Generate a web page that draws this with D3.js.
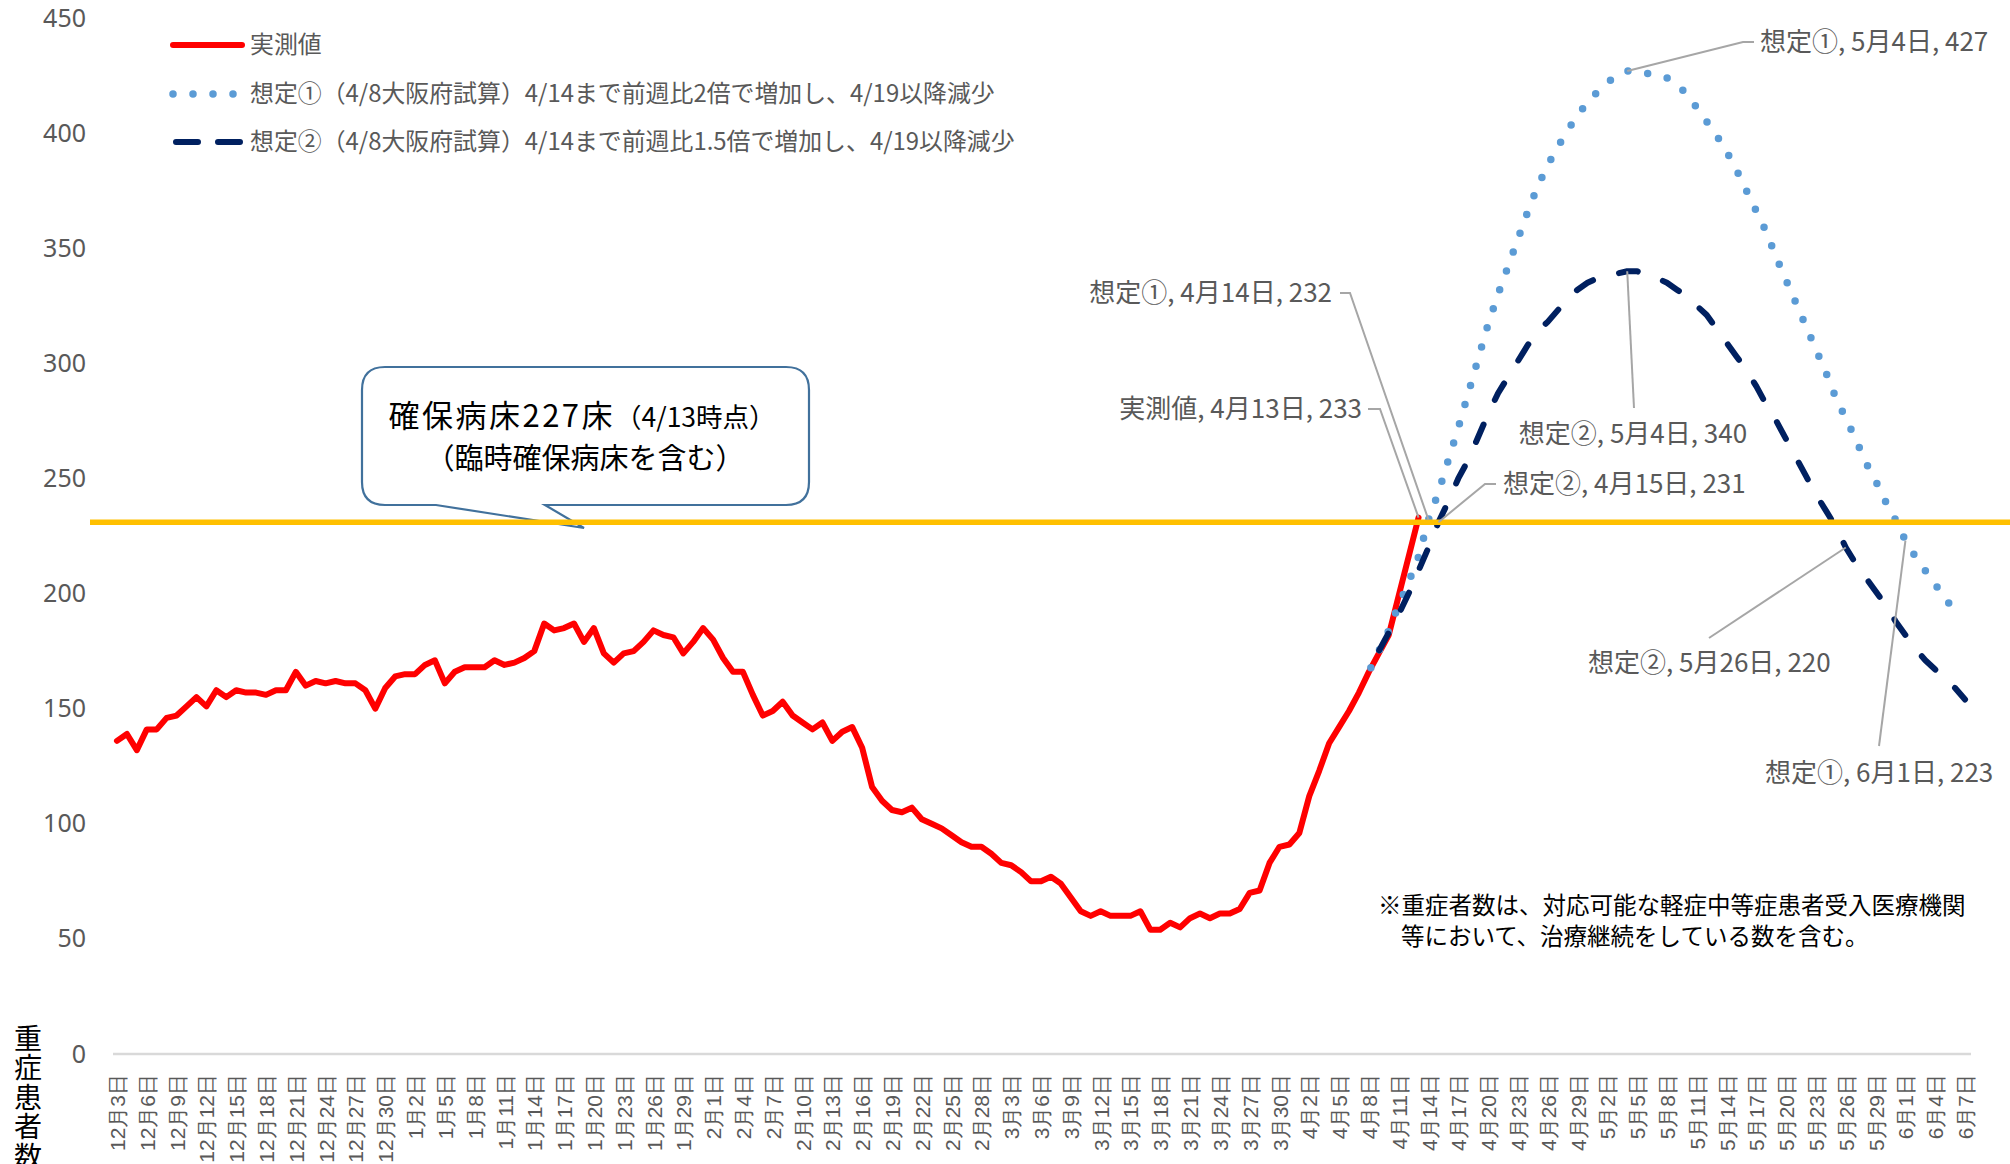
<!DOCTYPE html>
<html><head><meta charset="utf-8">
<script src="https://cdn.jsdelivr.net/npm/d3@7"></script>
<style>
html,body{margin:0;padding:0;background:#fff;}
svg{display:block;font-family:"Noto Sans CJK JP","Noto Sans",sans-serif;}
</style></head><body>
<svg id="chart" width="2010" height="1164"></svg>
<script>
// ---------------- data ----------------
const firstDay = {year: 2020, month: 12, day: 3};
const dayCount = 187; // 12月3日 .. 6月7日
const tickLabels = ["12月3日","12月6日","12月9日","12月12日","12月15日","12月18日","12月21日","12月24日","12月27日","12月30日",
  "1月2日","1月5日","1月8日","1月11日","1月14日","1月17日","1月20日","1月23日","1月26日","1月29日",
  "2月1日","2月4日","2月7日","2月10日","2月13日","2月16日","2月19日","2月22日","2月25日","2月28日",
  "3月3日","3月6日","3月9日","3月12日","3月15日","3月18日","3月21日","3月24日","3月27日","3月30日",
  "4月2日","4月5日","4月8日","4月11日","4月14日","4月17日","4月20日","4月23日","4月26日","4月29日",
  "5月2日","5月5日","5月8日","5月11日","5月14日","5月17日","5月20日","5月23日","5月26日","5月29日",
  "6月1日","6月4日","6月7日"];
const yTicks = [0,50,100,150,200,250,300,350,400,450];

const actualStart = "12月3日";
const actual = [136,139,132,141,141,146,147,151,155,151,
  158,155,158,157,157,156,158,158,166,160,
  162,161,162,161,161,158,150,159,164,165,
  165,169,171,161,166,168,168,168,171,169,
  170,172,175,187,184,185,187,179,185,174,
  170,174,175,179,184,182,181,174,179,185,
  180,172,166,166,156,147,149,153,147,144,
  141,144,136,140,142,133,116,110,106,105,
  107,102,100,98,95,92,90,90,87,83,
  82,79,75,75,77,74,68,62,60,62,
  60,60,60,62,54,54,57,55,59,61,
  59,61,61,63,70,71,83,90,91,96,
  112,123,135,142,149,157,166,174,182,199,
  216,233];

const scenario1Start = "4月8日";
const scenario1 = [166,175,184,195,205,216,232,244,258,272,
  287,302,317,330,342,354,366,377,386,394,
  401,408,413,418,422,425,427,427,426,425,
  424,421,417,411,405,399,392,384,375,366,
  357,346,336,326,316,306,296,285,276,267,
  257,249,240,232,223,216,210,204,198,192];

const scenario2Start = "4月8日";
const scenario2 = [166,175,183,191,200,210,220,231,240,250,
  258,268,278,287,294,301,308,314,318,323,
  328,332,335,337,338,339,340,340,338,337,
  335,332,329,325,321,315,309,303,297,290,
  282,275,267,259,251,243,236,229,220,213,
  207,201,195,188,182,176,171,167,162,159,154];

const bedCapacity = 231; // 確保病床ライン（図上の位置）

const legendItems = [
  {key: "actual", label: "実測値"},
  {key: "s1", label: "想定①（4/8大阪府試算）4/14まで前週比2倍で増加し、4/19以降減少"},
  {key: "s2", label: "想定②（4/8大阪府試算）4/14まで前週比1.5倍で増加し、4/19以降減少"}
];

const annotations = [
  {series: "s1", date: "5月4日", value: 427, text: "想定①, 5月4日, 427"},
  {series: "s1", date: "4月14日", value: 232, text: "想定①, 4月14日, 232"},
  {series: "actual", date: "4月13日", value: 233, text: "実測値, 4月13日, 233"},
  {series: "s2", date: "4月15日", value: 231, text: "想定②, 4月15日, 231"},
  {series: "s2", date: "5月4日", value: 340, text: "想定②, 5月4日, 340"},
  {series: "s2", date: "5月26日", value: 220, text: "想定②, 5月26日, 220"},
  {series: "s1", date: "6月1日", value: 223, text: "想定①, 6月1日, 223"}
];

// ---------------- build categories ----------------
const categories = [];
{
  const d0 = new Date(firstDay.year, firstDay.month - 1, firstDay.day);
  for (let i = 0; i < dayCount; i++) {
    const d = new Date(d0.getFullYear(), d0.getMonth(), d0.getDate() + i);
    categories.push((d.getMonth() + 1) + "月" + d.getDate() + "日");
  }
}
function toPoints(start, values) {
  const s = categories.indexOf(start);
  return values.map((v, i) => ({cat: categories[s + i], v}));
}
const seriesData = {
  actual: toPoints(actualStart, actual),
  s1: toPoints(scenario1Start, scenario1),
  s2: toPoints(scenario2Start, scenario2)
};

// ---------------- scales ----------------
const svg = d3.select("#chart");
const x = d3.scalePoint().domain(categories).range([112, 1970]).padding(0.5);
const y = d3.scaleLinear().domain([0, 450]).range([1054, 18]);

const gray = "#595959";

// y axis
const yAxis = svg.append("g").attr("transform", "translate(96,0)")
  .call(d3.axisLeft(y).tickValues(yTicks).tickSize(0).tickPadding(10));
yAxis.select(".domain").remove();
yAxis.selectAll("text").attr("fill", gray).style("font-size", "25px")
  .style("font-family", "'Noto Sans','Noto Sans CJK JP',sans-serif");

// x axis
const xAxis = svg.append("g").attr("transform", "translate(0,1054)")
  .call(d3.axisBottom(x).tickValues(tickLabels).tickSize(0));
xAxis.select(".domain").attr("stroke", "#d9d9d9").attr("stroke-width", 2.5)
  .attr("d", "M113,0H1971");
xAxis.selectAll("text")
  .attr("transform", "rotate(-90)")
  .attr("x", -20).attr("y", 0).attr("dy", "0.36em")
  .style("text-anchor", "end")
  .attr("fill", gray).style("font-size", "21px");

// y axis title (vertical writing)
svg.append("text").attr("x", 28).attr("y", 1024)
  .attr("fill", "#000")
  .style("font-size", "28px")
  .style("writing-mode", "vertical-rl")
  .style("text-orientation", "upright")
  .style("letter-spacing", "1.5px")
  .text("重症患者数");

// callout box
svg.append("path")
  .attr("d", "M385,367H786Q809,367 809,390V482Q809,505 786,505H545L584,528L436,505H385Q362,505 362,482V390Q362,367 385,367Z")
  .attr("fill", "#fff").attr("stroke", "#41719c").attr("stroke-width", 2.2);
const callout = svg.append("text").attr("text-anchor", "middle").attr("fill", "#000");
callout.append("tspan").attr("x", 582).attr("y", 427)
  .style("font-size", "31px").style("letter-spacing", "2.5px").text("確保病床227床");
callout.append("tspan").style("font-size", "26.5px").text("（4/13時点）");
callout.append("tspan").attr("x", 585).attr("y", 469)
  .style("font-size", "29px").text("（臨時確保病床を含む）");

// lines
const line = d3.line().x(d => x(d.cat)).y(d => y(d.v));
const styles = {
  actual: {stroke: "#ff0000", width: 6, dash: null, period: 0, endAt: 0},
  s1: {stroke: "#5b9bd5", width: 7.5, dash: "0 20", period: 20, endAt: 0},
  s2: {stroke: "#002060", width: 6, dash: "19 27", period: 46, endAt: 17}
};
["actual", "s1", "s2"].forEach(k => {
  const p = svg.append("path").datum(seriesData[k]).attr("d", line)
    .attr("fill", "none").attr("stroke", styles[k].stroke)
    .attr("stroke-width", styles[k].width)
    .attr("stroke-linecap", "round").attr("stroke-linejoin", "round")
    .attr("stroke-dasharray", styles[k].dash);
  if (styles[k].period) {
    const L = p.node().getTotalLength();
    const P = styles[k].period;
    const off = ((styles[k].endAt - L) % P + P) % P;
    p.attr("stroke-dashoffset", -off);
  }
});

// bed capacity line
svg.append("line").attr("x1", 90).attr("x2", 2010)
  .attr("y1", y(bedCapacity)).attr("y2", y(bedCapacity))
  .attr("stroke", "#ffc000").attr("stroke-width", 5.5);

// legend
const legendY = [45, 94, 142];
legendItems.forEach((it, i) => {
  const st = styles[it.key];
  svg.append("line").attr("x1", it.key === "s2" ? 176 : 173).attr("x2", it.key === "s1" ? 234 : 242)
    .attr("y1", legendY[i]).attr("y2", legendY[i])
    .attr("stroke", st.stroke).attr("stroke-width", st.width)
    .attr("stroke-linecap", "round").attr("stroke-dasharray", it.key === "s2" ? "22 20" : st.dash);
  svg.append("text").attr("x", 250).attr("y", legendY[i]).attr("dy", "0.35em")
    .attr("fill", gray).style("font-size", "23.9px").text(it.label);
});

// data labels with leader lines
const labelLayout = [
  {tx: 1760, ty: 42, anchor: "start", leader: [[1754, 42], [1743, 42]]},
  {tx: 1332, ty: 293, anchor: "end", leader: [[1340, 293], [1350, 293]]},
  {tx: 1362, ty: 409, anchor: "end", leader: [[1368, 409], [1380, 409]]},
  {tx: 1503, ty: 484, anchor: "start", leader: [[1496, 484], [1485, 484]]},
  {tx: 1633, ty: 434, anchor: "middle", leader: [[1634, 408]]},
  {tx: 1588, ty: 663, anchor: "start", leader: [[1709, 638]]},
  {tx: 1765, ty: 773, anchor: "start", leader: [[1879, 746]]}
];
annotations.forEach((a, i) => {
  const L = labelLayout[i];
  const pts = L.leader.concat([[x(a.date), y(a.value)]]);
  svg.append("path").attr("d", d3.line()(pts)).attr("fill", "none")
    .attr("stroke", "#a6a6a6").attr("stroke-width", 2);
  svg.append("text").attr("x", L.tx).attr("y", L.ty).attr("dy", "0.35em")
    .attr("text-anchor", L.anchor).attr("fill", gray).style("font-size", "26px").text(a.text);
});

// note
const noteLines = ["※重症者数は、対応可能な軽症中等症患者受入医療機関", "等において、治療継続をしている数を含む。"];
const note = svg.append("text").attr("fill", "#000").style("font-size", "23.5px");
note.append("tspan").attr("x", 1378).attr("y", 914).text(noteLines[0]);
note.append("tspan").attr("x", 1401).attr("y", 945).text(noteLines[1]);
</script>
</body></html>
